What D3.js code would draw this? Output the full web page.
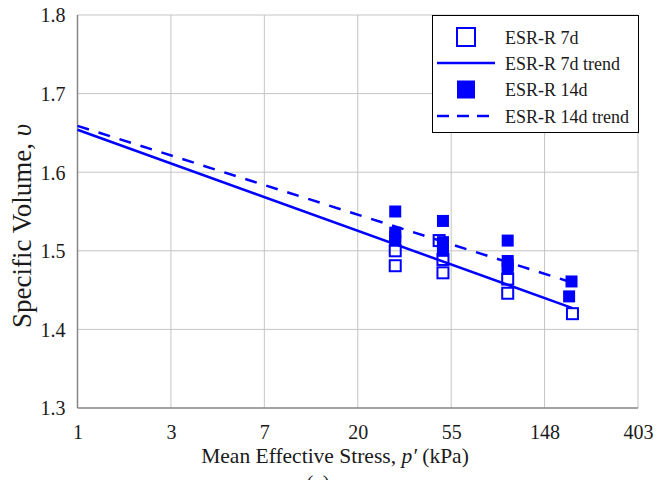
<!DOCTYPE html>
<html>
<head>
<meta charset="utf-8">
<script src="https://cdn.jsdelivr.net/npm/d3@7/dist/d3.min.js"></script>
<style>
  html, body { margin: 0; padding: 0; background: #ffffff; }
  svg { display: block; font-family: "Liberation Serif", "Times New Roman", serif; }
</style>
</head>
<body>
<svg id="chart" width="658" height="480"></svg>
<script>
// ---------- data ----------
const xTickValues = [1, 2.718, 7.389, 20.09, 54.6, 148.4, 403.4];
const xTickLabels = ["1", "3", "7", "20", "55", "148", "403"];
const yTickValues = [1.3, 1.4, 1.5, 1.6, 1.7, 1.8];
const yTickLabels = ["1.3", "1.4", "1.5", "1.6", "1.7", "1.8"];

// ESR-R 7d (open squares)
const p7d = [30, 30, 48, 50, 50, 100, 100, 200];
const v7d = [1.500, 1.481, 1.513, 1.489, 1.472, 1.464, 1.446, 1.420];

// ESR-R 14d (filled squares)
const p14d = [30, 30, 30, 30, 50, 50, 50, 50, 100, 100, 100, 100, 198, 193];
const v14d = [1.550, 1.523, 1.518, 1.513, 1.538, 1.511, 1.506, 1.500, 1.513, 1.487, 1.482, 1.477, 1.461, 1.442];

// trend lines (end points)
const trend7dP = [1, 200];
const trend7dV = [1.654, 1.427];
const trend14dP = [1, 192];
const trend14dV = [1.659, 1.461];

const legendLabels = ["ESR-R 7d", "ESR-R 7d trend", "ESR-R 14d", "ESR-R 14d trend"];

// ---------- layout ----------
(function () {
const svg = d3.select("#chart");
const mLeft = 77.5, mRight = 638, mTop = 15, mBottom = 408;
const blue = "#0000ff";

const x = d3.scaleLog().domain([1, 403.4]).range([mLeft, mRight]);
const y = d3.scaleLinear().domain([1.3, 1.8]).range([mBottom, mTop]);

// gridlines
svg.append("g").selectAll("line").data(xTickValues.slice(1)).join("line")
  .attr("x1", d => x(d)).attr("x2", d => x(d))
  .attr("y1", mTop).attr("y2", mBottom)
  .attr("stroke", "#c4c4c4").attr("stroke-width", 1);
svg.append("g").selectAll("line").data(yTickValues.slice(1)).join("line")
  .attr("x1", mLeft).attr("x2", mRight)
  .attr("y1", d => y(d)).attr("y2", d => y(d))
  .attr("stroke", "#c4c4c4").attr("stroke-width", 1);

// axes lines
svg.append("line").attr("x1", mLeft).attr("x2", mLeft).attr("y1", mTop).attr("y2", mBottom)
  .attr("stroke", "#858585").attr("stroke-width", 1.5);
svg.append("line").attr("x1", mLeft).attr("x2", mRight).attr("y1", mBottom).attr("y2", mBottom)
  .attr("stroke", "#858585").attr("stroke-width", 1.5);

// tick labels via d3 axes
const xAxis = d3.axisBottom(x).tickValues(xTickValues)
  .tickFormat((d, i) => xTickLabels[i]).tickSize(0).tickPadding(0);
const gx = svg.append("g").attr("transform", `translate(0,${mBottom})`).call(xAxis);
gx.select(".domain").remove();
gx.selectAll("text").attr("font-size", 20).attr("font-family", "Liberation Serif")
  .attr("fill", "#1a1a1a").attr("dy", null).attr("y", 31);

const yAxis = d3.axisLeft(y).tickValues(yTickValues)
  .tickFormat((d, i) => yTickLabels[i]).tickSize(0).tickPadding(12);
const gy = svg.append("g").attr("transform", `translate(${mLeft},0)`).call(yAxis);
gy.select(".domain").remove();
gy.selectAll("text").attr("font-size", 20).attr("font-family", "Liberation Serif")
  .attr("fill", "#1a1a1a").attr("dy", "0.34em");

// trend lines
const line = d3.line().x(d => x(d[0])).y(d => y(d[1]));
const t7 = trend7dP.map((p, i) => [p, trend7dV[i]]);
const t14 = trend14dP.map((p, i) => [p, trend14dV[i]]);
svg.append("path").datum(t14).attr("d", line).attr("fill", "none")
  .attr("stroke", blue).attr("stroke-width", 2.5).attr("stroke-dasharray", "12,10");
svg.append("path").datum(t7).attr("d", line).attr("fill", "none")
  .attr("stroke", blue).attr("stroke-width", 2.5);

// points
const sq = 11;
svg.append("g").selectAll("rect").data(p14d.map((p, i) => [p, v14d[i]])).join("rect")
  .attr("x", d => x(d[0]) - sq / 2 - 0.5).attr("y", d => y(d[1]) - sq / 2 - 0.5)
  .attr("width", sq + 1).attr("height", sq + 1)
  .attr("fill", blue);
svg.append("g").selectAll("rect").data(p7d.map((p, i) => [p, v7d[i]])).join("rect")
  .attr("x", d => x(d[0]) - sq / 2).attr("y", d => y(d[1]) - sq / 2)
  .attr("width", sq).attr("height", sq)
  .attr("fill", "#ffffff").attr("fill-opacity", 0).attr("stroke", blue).attr("stroke-width", 2);

// legend
const lg = svg.append("g");
lg.append("rect").attr("x", 432.5).attr("y", 15.5).attr("width", 206).attr("height", 117)
  .attr("fill", "#ffffff").attr("stroke", "#000000").attr("stroke-width", 1);
const rows = [37, 63, 89.5, 116];
const sx = 466, ls = 18;
lg.append("rect").attr("x", sx - ls / 2).attr("y", rows[0] - ls / 2).attr("width", ls).attr("height", ls)
  .attr("fill", "#ffffff").attr("stroke", blue).attr("stroke-width", 2);
lg.append("line").attr("x1", 437).attr("x2", 495).attr("y1", rows[1]).attr("y2", rows[1])
  .attr("stroke", blue).attr("stroke-width", 2.5);
lg.append("rect").attr("x", sx - ls / 2).attr("y", rows[2] - ls / 2).attr("width", ls).attr("height", ls)
  .attr("fill", blue);
lg.append("line").attr("x1", 437).attr("x2", 495).attr("y1", rows[3]).attr("y2", rows[3])
  .attr("stroke", blue).attr("stroke-width", 2.5).attr("stroke-dasharray", "12,8");
lg.selectAll("text").data(legendLabels).join("text")
  .attr("x", 505).attr("y", (d, i) => rows[i] + 6.5)
  .attr("font-size", 18).attr("fill", "#1a1a1a").text(d => d);

// axis titles
const xt = svg.append("text").attr("x", 335).attr("y", 463).attr("text-anchor", "middle")
  .attr("font-size", 21.5).attr("fill", "#1a1a1a");
xt.append("tspan").text("Mean Effective Stress, ");
xt.append("tspan").attr("font-style", "italic").text("p′");
xt.append("tspan").text(" (kPa)");

const yt = svg.append("text").attr("transform", "translate(31,226) rotate(-90)")
  .attr("text-anchor", "middle").attr("font-size", 27).attr("fill", "#1a1a1a");
yt.append("tspan").text("Specific Volume, ");
yt.append("tspan").attr("font-style", "italic").text("υ");

// partially visible panel label
svg.append("text").attr("x", 318).attr("y", 490).attr("text-anchor", "middle")
  .attr("font-size", 21).attr("fill", "#1a1a1a").text("(a)");
})();
</script>
</body>
</html>
